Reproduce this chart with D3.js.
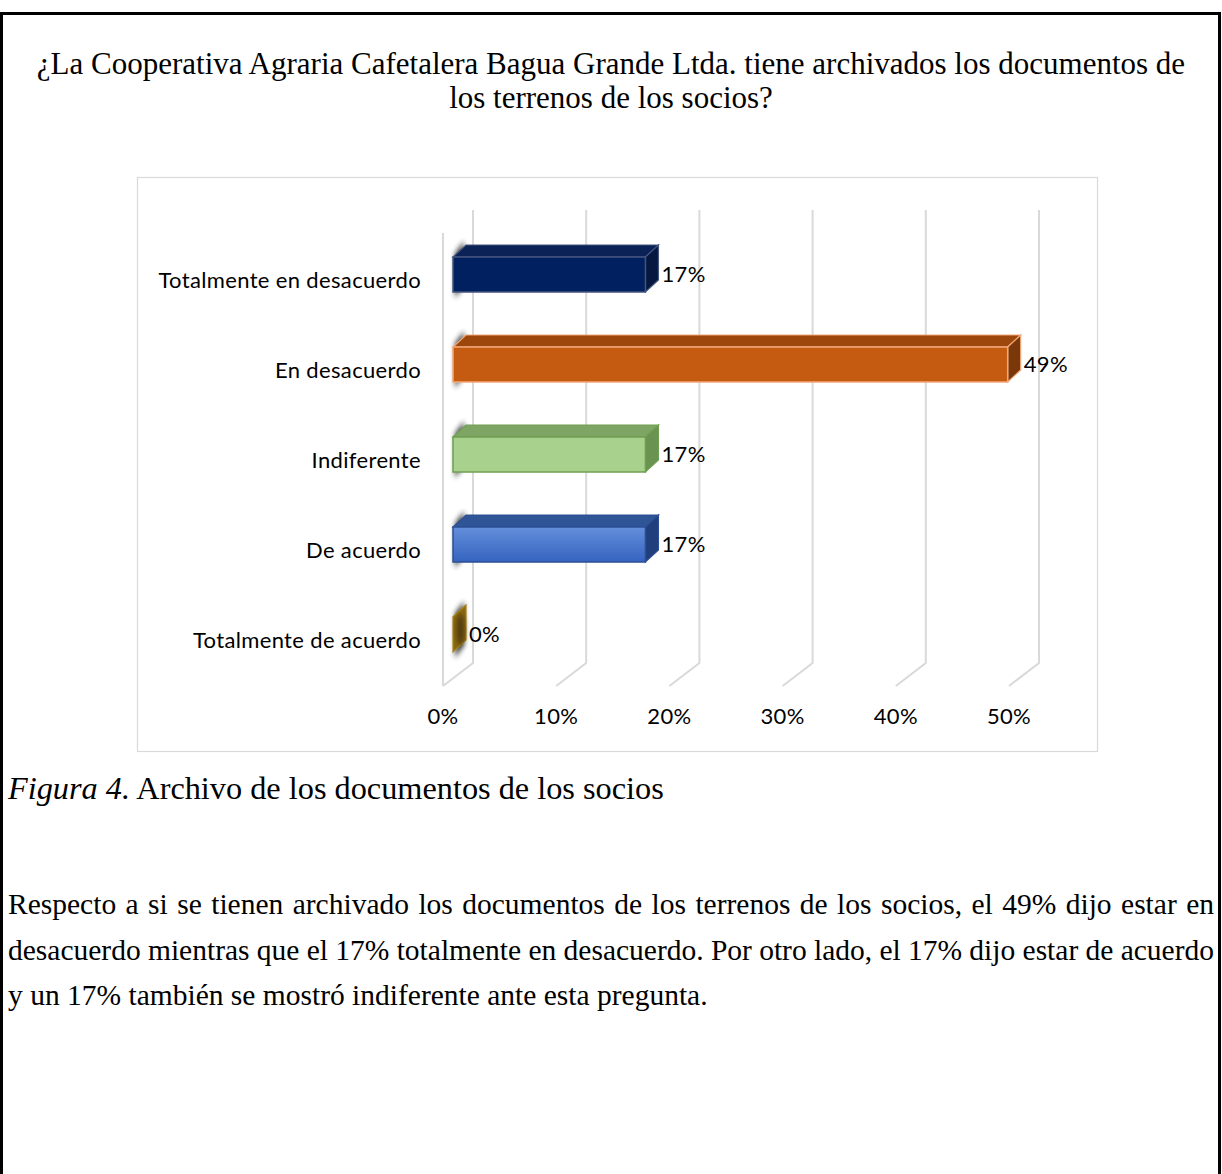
<!DOCTYPE html>
<html>
<head>
<meta charset="utf-8">
<script src="https://cdn.jsdelivr.net/npm/d3@7"></script>
<style>
  html, body { margin: 0; padding: 0; background: #fff; }
  svg { display: block; }
</style>
</head>
<body>
<svg id="page" width="1222" height="1174"></svg>
<script>
// Survey answers and their shares
const categories = ["Totalmente en desacuerdo", "En desacuerdo", "Indiferente", "De acuerdo", "Totalmente de acuerdo"];
const values = [0.17, 0.49, 0.17, 0.17, 0.00];
const tickValues = [0, 0.1, 0.2, 0.3, 0.4, 0.5];
const tickLabels = ["0%", "10%", "20%", "30%", "40%", "50%"];

const titleLines = [
  "¿La Cooperativa Agraria Cafetalera Bagua Grande Ltda. tiene archivados los documentos de",
  "los terrenos de los socios?"
];
const captionItalic = "Figura 4.";
const captionText = " Archivo de los documentos de los socios";
const paragraphLines = [
  "Respecto a si se tienen archivado los documentos de los terrenos de los socios, el 49% dijo estar en",
  "desacuerdo mientras que el 17% totalmente en desacuerdo. Por otro lado, el 17% dijo estar de acuerdo",
  "y un 17% también se mostró indiferente ante esta pregunta."
];

// Face colours per bar: front, top, side, outline
const palette = [
  { front: "#002060", top: "#0b2256", side: "#06183f", stroke: "#44557d" },
  { front: "#C55A11", top: "#9e470d", side: "#7a370a", stroke: "#f2a878" },
  { front: "#A9D18E", top: "#7ea563", side: "#6a9250", stroke: "#6f9f52" },
  { front: "url(#blueGrad)", top: "#2f5597", side: "#213f7c", stroke: "#2c4f92" },
  { front: "#BF9000", top: "#8f6c10", side: "#8c6a12", stroke: "#a88418" }
];

const svg = d3.select("#page");
const serif = "'Liberation Serif', 'Times New Roman', serif";
const sans = "Lato, 'Open Sans', sans-serif";
const sansSize = 22, sansTrack = 0.35;

const defs = svg.append("defs");
const grad = defs.append("linearGradient").attr("id", "blueGrad")
  .attr("x1", 0).attr("y1", 0).attr("x2", 0).attr("y2", 1);
grad.append("stop").attr("offset", "0%").attr("stop-color", "#648fdb");
grad.append("stop").attr("offset", "100%").attr("stop-color", "#3564c0");
defs.append("filter").attr("id", "soft").attr("x", "-100%").attr("y", "-50%")
  .attr("width", "300%").attr("height", "200%")
  .append("feGaussianBlur").attr("stdDeviation", 2.6);

// Page frame
svg.append("rect").attr("x", 1.5).attr("y", 13.5).attr("width", 1218).attr("height", 1200)
  .attr("fill", "none").attr("stroke", "#000").attr("stroke-width", 3);

// Title
svg.selectAll("text.title").data(titleLines).join("text")
  .attr("class", "title")
  .attr("x", 611).attr("y", (d, i) => 74 + i * 34)
  .attr("text-anchor", "middle")
  .attr("font-family", serif).attr("font-size", 31).attr("fill", "#000")
  .text(d => d);

// Chart area frame
svg.append("rect").attr("x", 137.5).attr("y", 177.5).attr("width", 960).attr("height", 574)
  .attr("fill", "#fff").attr("stroke", "#d9d9d9").attr("stroke-width", 1.2);

// Scales: x on the front plane, bands for the bar faces
const x = d3.scaleLinear().domain([0, 0.5]).range([443, 1009]);
const y = d3.scaleBand().domain(categories).range([229.5, 679.5])
  .paddingInner(1 - 35 / 90).paddingOuter((1 - 35 / 90) / 2);

// 3D projection offsets
const depth = { dx: 30, dy: -23 };      // full floor depth
const barShift = { dx: 10, dy: 0 };     // bar front face relative to front plane
const barDepth = { dx: 13, dy: -12 };   // bar thickness
const wallTop = 210, floorFront = 686;

const g = svg.append("g");

// Gridlines: vertical on the back wall, diagonal across the floor
g.selectAll("path.grid").data(tickValues).join("path")
  .attr("class", "grid")
  .attr("d", d => {
    const xb = x(d) + depth.dx;
    return `M${xb},${wallTop}V${floorFront + depth.dy}L${x(d)},${floorFront}`;
  })
  .attr("fill", "none").attr("stroke", "#d9d9d9").attr("stroke-width", 2);

// Front edge of the left wall
g.append("line")
  .attr("x1", x(0)).attr("x2", x(0))
  .attr("y1", wallTop - depth.dy).attr("y2", floorFront)
  .attr("stroke", "#d9d9d9").attr("stroke-width", 2);

const bars = g.selectAll("g.bar").data(categories).join("g").attr("class", "bar");

// Shadow cast on the left wall
bars.append("path")
  .attr("d", d => {
    const x0 = x(0) + barShift.dx + 2, t = y(d) - 4, b = y(d) + y.bandwidth() + 6;
    return `M${x0},${t}L${x0 + barDepth.dx - 4},${t + barDepth.dy}L${x0 + barDepth.dx - 4},${b + barDepth.dy}L${x0},${b}Z`;
  })
  .attr("fill", "#2a2a2a").attr("opacity", 0.85).attr("filter", "url(#soft)");

bars.each(function (d, i) {
  const sel = d3.select(this);
  const c = palette[i];
  const xl = x(0) + barShift.dx;
  const xr = x(values[i]) + barShift.dx;
  const t = y(d), b = y(d) + y.bandwidth();
  const ox = barDepth.dx, oy = barDepth.dy;
  // top face
  sel.append("path")
    .attr("d", `M${xl},${t}L${xl + ox},${t + oy}L${xr + ox},${t + oy}L${xr},${t}Z`)
    .attr("fill", c.top).attr("stroke", c.stroke).attr("stroke-width", 1.2);
  // right face
  sel.append("path")
    .attr("d", `M${xr},${t}L${xr + ox},${t + oy}L${xr + ox},${b + oy}L${xr},${b}Z`)
    .attr("fill", c.side).attr("stroke", c.stroke).attr("stroke-width", 1.2);
  // front face
  if (xr > xl) {
    sel.append("rect")
      .attr("x", xl).attr("y", t).attr("width", xr - xl).attr("height", b - t)
      .attr("fill", c.front).attr("stroke", c.stroke).attr("stroke-width", 1.5);
  }
});

// Shadow over the zero-length bar's side face
{
  const i = values.length - 1, d = categories[i];
  const xr = x(values[i]) + barShift.dx;
  g.append("ellipse")
    .attr("cx", xr + barDepth.dx / 2 + 1).attr("cy", y(d) + y.bandwidth() / 2 - 5)
    .attr("rx", 4).attr("ry", 16)
    .attr("fill", "#3a2a10").attr("opacity", 0.75).attr("filter", "url(#soft)");
}

// Value labels
g.selectAll("text.value").data(categories).join("text")
  .attr("class", "value")
  .attr("x", (d, i) => x(values[i]) + barShift.dx + barDepth.dx + 3)
  .attr("y", d => y(d) + y.bandwidth() / 2 + 2)
  .attr("dominant-baseline", "middle")
  .attr("font-family", sans).attr("font-size", sansSize).attr("letter-spacing", sansTrack)
  .attr("fill", "#000")
  .text((d, i) => d3.format(".0%")(values[i]));

// Category labels
g.selectAll("text.cat").data(categories).join("text")
  .attr("class", "cat")
  .attr("x", 421)
  .attr("y", d => y(d) + y.bandwidth() / 2 + 8)
  .attr("text-anchor", "end").attr("dominant-baseline", "middle")
  .attr("font-family", sans).attr("font-size", sansSize).attr("letter-spacing", sansTrack)
  .attr("fill", "#000")
  .text(d => d);

// Tick labels
g.selectAll("text.tick").data(tickValues).join("text")
  .attr("class", "tick")
  .attr("x", d => x(d)).attr("y", 718)
  .attr("text-anchor", "middle").attr("dominant-baseline", "middle")
  .attr("font-family", sans).attr("font-size", sansSize).attr("letter-spacing", sansTrack)
  .attr("fill", "#000")
  .text((d, i) => tickLabels[i]);

// Caption
const cap = svg.append("text").attr("x", 8).attr("y", 799)
  .attr("font-family", serif).attr("font-size", 32.3).attr("fill", "#000");
cap.append("tspan").attr("font-style", "italic").text(captionItalic);
cap.append("tspan").text(captionText);

// Justified paragraph
const left = 8, right = 1214;
svg.selectAll("text.para").data(paragraphLines).join("text")
  .attr("class", "para")
  .attr("x", left).attr("y", (d, i) => 914 + i * 45.5)
  .attr("font-family", serif).attr("font-size", 29.5).attr("fill", "#000")
  .text(d => d)
  .each(function (d, i) {
    if (i === paragraphLines.length - 1) return;
    const natural = this.getComputedTextLength();
    const gaps = d.split(" ").length - 1;
    d3.select(this).attr("word-spacing", (right - left - natural) / gaps);
  });
</script>
</body>
</html>
